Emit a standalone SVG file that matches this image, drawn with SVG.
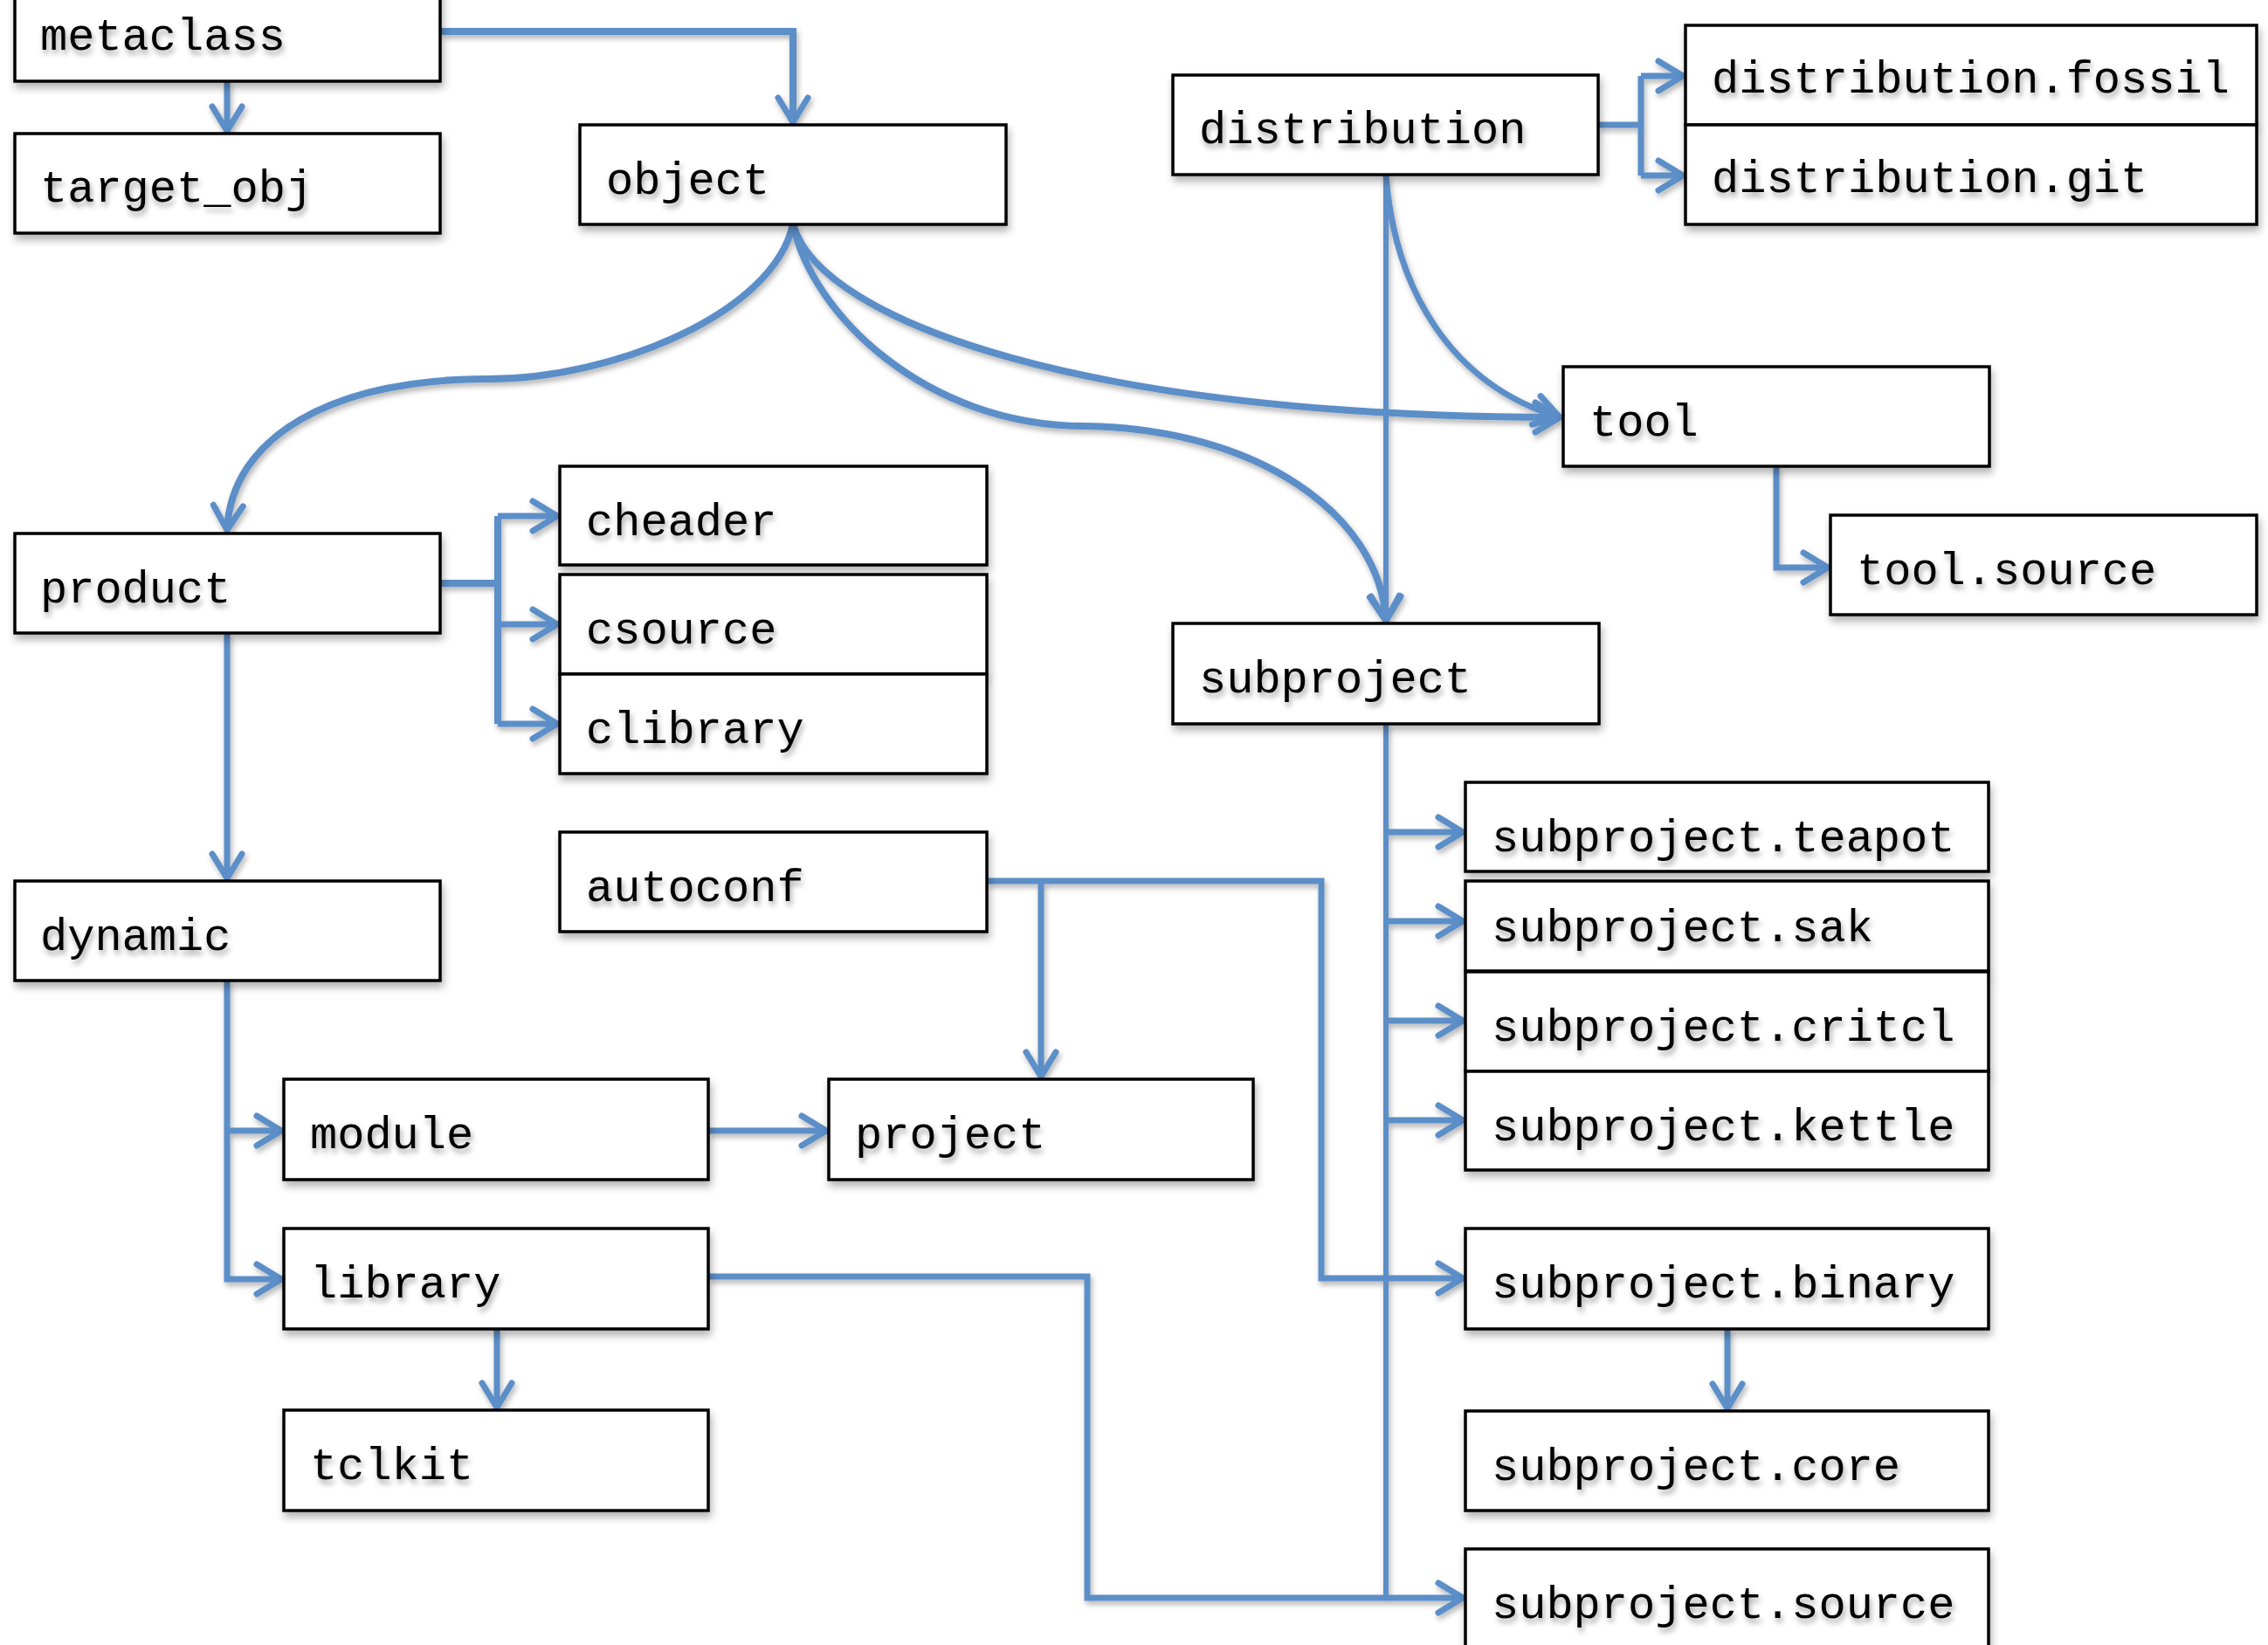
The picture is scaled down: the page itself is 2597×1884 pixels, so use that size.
<svg xmlns="http://www.w3.org/2000/svg" width="2597" height="1884" viewBox="0 0 2597 1884">
<defs>
<style>
.box{fill:#fff;stroke:#000;stroke-width:3.5;filter:url(#bs)}
.lbl{font-family:"Liberation Mono","Courier New",monospace;font-size:52px;fill:#000;filter:url(#ts)}
.c{fill:none;stroke:#5b8ec8;stroke-width:7;stroke-linejoin:miter}
.thick{stroke-width:8}
.thin{stroke-width:6}
.ar{marker-end:url(#ah)}
</style>
<filter id="bs" x="-10%" y="-20%" width="125%" height="150%"><feDropShadow dx="2" dy="6" stdDeviation="5" flood-color="#000" flood-opacity="0.3"/></filter>
<filter id="ts" x="-10%" y="-30%" width="125%" height="170%"><feDropShadow dx="2" dy="5" stdDeviation="3" flood-color="#000" flood-opacity="0.35"/></filter>
<filter id="ls" x="-5%" y="-5%" width="110%" height="110%"><feDropShadow dx="2" dy="4" stdDeviation="3" flood-color="#000" flood-opacity="0.3"/></filter>
<marker id="ah" markerUnits="userSpaceOnUse" markerWidth="44" markerHeight="44" viewBox="-36 -22 44 44" refX="0" refY="0" orient="auto" overflow="visible">
<path d="M-28,-17 L0,0 L-28,17" fill="none" stroke="#5b8ec8" stroke-width="7" stroke-linecap="round" stroke-linejoin="round"/>
</marker>
</defs>
<rect width="2597" height="1884" fill="#fff"/>
<g id="connectors" filter="url(#ls)">
<path class="c ar" d="M260,93 V150"/>
<path class="c thick ar" d="M504,36 H908 V140"/>
<path class="c thick ar" d="M908,257 C885,360 700,434 560,434 C380,434 265,500 260,607"/>
<path class="c thick ar" d="M908,257 C940,370 1250,478 1786,478"/>
<path class="c thick ar" d="M908,257 C930,360 1060,487 1240,488 C1440,490 1580,590 1587,711"/>
<path class="c" d="M1830,143 H1879 M1879,87 V201"/>
<path class="c ar" d="M1879,87 H1927"/>
<path class="c ar" d="M1879,201 H1927"/>
<path class="c thin ar" d="M1587,200 V711"/>
<path class="c ar" d="M1587,201 C1597,330 1660,440 1786,478"/>
<path class="c ar" d="M2034,534 V650 H2093"/>
<path class="c thick" d="M504,668 H570 M570,591 V829"/>
<path class="c ar" d="M570,591 H638"/>
<path class="c ar" d="M570,715 H638"/>
<path class="c ar" d="M570,829 H638"/>
<path class="c ar" d="M260,725 V1006"/>
<path class="c ar" d="M260,1123 V1465 H322"/>
<path class="c ar" d="M260,1295 H322"/>
<path class="c ar" d="M811,1295 H946"/>
<path class="c ar" d="M569,1522 V1612"/>
<path class="c ar" d="M811,1462 H1245 V1830 H1675"/>
<path class="c ar" d="M1130,1009 H1513 V1464 H1675"/>
<path class="c ar" d="M1192,1009 V1233"/>
<path class="c thin" d="M1587,829 V1830"/>
<path class="c ar" d="M1587,953 H1675"/>
<path class="c ar" d="M1587,1055 H1675"/>
<path class="c ar" d="M1587,1169 H1675"/>
<path class="c ar" d="M1587,1283 H1675"/>
<path class="c ar" d="M1978,1522 V1613"/>
</g>
<g id="metaclass"><rect class="box" x="17" y="-21" width="487" height="114"/><text class="lbl" x="46" y="57">metaclass</text></g>
<g id="target_obj"><rect class="box" x="17" y="153" width="487" height="114"/><text class="lbl" x="46" y="231">target_obj</text></g>
<g id="object"><rect class="box" x="664" y="143" width="488" height="114"/><text class="lbl" x="694" y="222">object</text></g>
<g id="distribution"><rect class="box" x="1343" y="86" width="487" height="114"/><text class="lbl" x="1373" y="164">distribution</text></g>
<g id="distribution_fossil"><rect class="box" x="1930" y="29" width="654" height="114"/><text class="lbl" x="1960" y="106">distribution.fossil</text></g>
<g id="distribution_git"><rect class="box" x="1930" y="143" width="654" height="114"/><text class="lbl" x="1960" y="220">distribution.git</text></g>
<g id="tool"><rect class="box" x="1790" y="420" width="488" height="114"/><text class="lbl" x="1820" y="499">tool</text></g>
<g id="tool_source"><rect class="box" x="2096" y="590" width="488" height="114"/><text class="lbl" x="2126" y="669">tool.source</text></g>
<g id="product"><rect class="box" x="17" y="611" width="487" height="114"/><text class="lbl" x="46" y="690">product</text></g>
<g id="cheader"><rect class="box" x="641" y="534" width="489" height="113"/><text class="lbl" x="671" y="613">cheader</text></g>
<g id="csource"><rect class="box" x="641" y="658" width="489" height="114"/><text class="lbl" x="671" y="737">csource</text></g>
<g id="clibrary"><rect class="box" x="641" y="772" width="489" height="114"/><text class="lbl" x="671" y="851">clibrary</text></g>
<g id="autoconf"><rect class="box" x="641" y="953" width="489" height="114"/><text class="lbl" x="671" y="1032">autoconf</text></g>
<g id="subproject"><rect class="box" x="1343" y="714" width="488" height="115"/><text class="lbl" x="1373" y="793">subproject</text></g>
<g id="subproject_teapot"><rect class="box" x="1678" y="896" width="599" height="102"/><text class="lbl" x="1708" y="975">subproject.teapot</text></g>
<g id="subproject_sak"><rect class="box" x="1678" y="1009" width="599" height="103"/><text class="lbl" x="1708" y="1078">subproject.sak</text></g>
<g id="subproject_critcl"><rect class="box" x="1678" y="1113" width="599" height="114"/><text class="lbl" x="1708" y="1192">subproject.critcl</text></g>
<g id="subproject_kettle"><rect class="box" x="1678" y="1227" width="599" height="113"/><text class="lbl" x="1708" y="1306">subproject.kettle</text></g>
<g id="dynamic"><rect class="box" x="17" y="1009" width="487" height="114"/><text class="lbl" x="46" y="1088">dynamic</text></g>
<g id="module"><rect class="box" x="325" y="1236" width="486" height="115"/><text class="lbl" x="355" y="1315">module</text></g>
<g id="project"><rect class="box" x="949" y="1236" width="486" height="115"/><text class="lbl" x="979" y="1315">project</text></g>
<g id="library"><rect class="box" x="325" y="1407" width="486" height="115"/><text class="lbl" x="355" y="1486">library</text></g>
<g id="tclkit"><rect class="box" x="325" y="1615" width="486" height="115"/><text class="lbl" x="355" y="1694">tclkit</text></g>
<g id="subproject_binary"><rect class="box" x="1678" y="1407" width="599" height="115"/><text class="lbl" x="1708" y="1486">subproject.binary</text></g>
<g id="subproject_core"><rect class="box" x="1678" y="1616" width="599" height="114"/><text class="lbl" x="1708" y="1695">subproject.core</text></g>
<g id="subproject_source"><rect class="box" x="1678" y="1774" width="599" height="114"/><text class="lbl" x="1708" y="1853">subproject.source</text></g>
</svg>
